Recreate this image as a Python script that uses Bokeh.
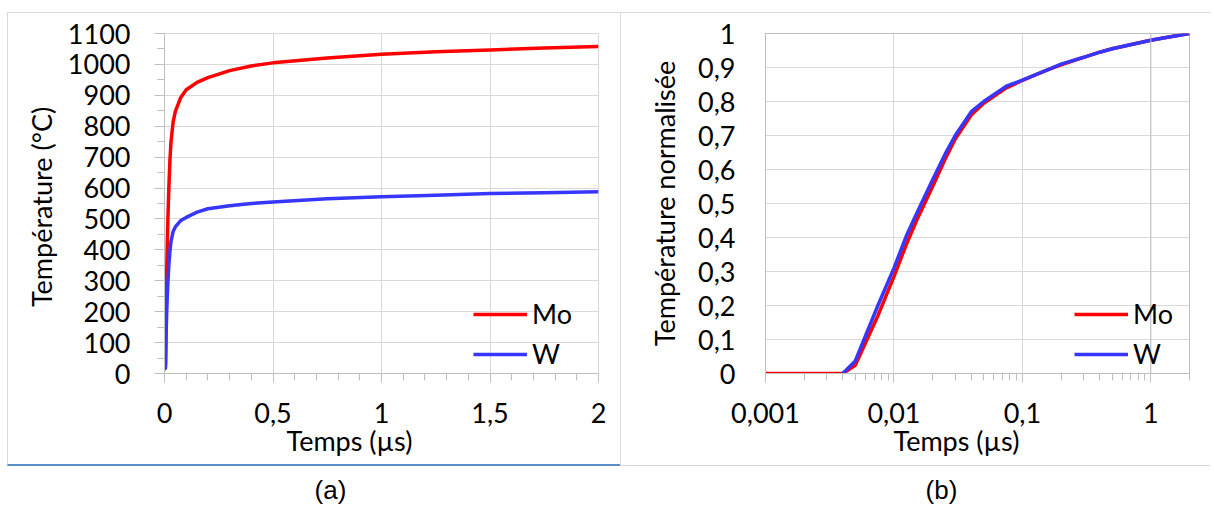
from bokeh.plotting import figure
from bokeh.models import (Legend, LegendItem, Title, Span, Label, FixedTicker,
                          CustomJSTickFormatter, Spacer)
from bokeh.layouts import row, column
from bokeh.embed import file_html
from bokeh.resources import INLINE

# ---------------- data ----------------
t_us = [0.001, 0.002, 0.003, 0.004, 0.005, 0.0075, 0.01, 0.0125, 0.015, 0.02,
        0.025, 0.03, 0.04, 0.05, 0.075, 0.1, 0.15, 0.2, 0.3, 0.4, 0.5, 0.75,
        1.0, 1.25, 1.5, 1.75, 2.0]
mo_temp = [20, 20, 20, 20, 45, 200, 320, 415, 485, 600, 690, 750, 815, 848,
           893, 918, 942, 957, 980, 995, 1005, 1021, 1033, 1041, 1047, 1053, 1058]
w_temp = [15, 15, 15, 15, 35, 130, 195, 245, 285, 350, 395, 428, 460, 474,
          495, 505, 522, 533, 543, 550, 555, 565, 572, 577, 582, 585, 588]

t_norm_mo = t_us
mo_norm = [0, 0, 0, 0, 0.024, 0.17, 0.285, 0.38, 0.45, 0.55, 0.63, 0.69, 0.76,
           0.795, 0.84, 0.862, 0.89, 0.908, 0.93, 0.945, 0.955, 0.97, 0.98,
           0.987, 0.992, 0.996, 1.0]
t_norm_w = t_us[3:]
w_norm = [0, 0.037, 0.2, 0.31, 0.405, 0.47, 0.57, 0.645, 0.70, 0.77, 0.80,
          0.845, 0.863, 0.89, 0.91, 0.93, 0.945, 0.955, 0.97, 0.98, 0.987,
          0.992, 0.996, 1.0]

series_names = ["Mo", "W"]
series_colors = ["#FF0000", "#3636FF"]

left_x_ticks = [0, 0.5, 1, 1.5, 2]
left_x_minor = [0.1, 0.2, 0.3, 0.4, 0.6, 0.7, 0.8, 0.9, 1.1, 1.2, 1.3, 1.4,
                1.6, 1.7, 1.8, 1.9]
left_y_ticks = [0, 100, 200, 300, 400, 500, 600, 700, 800, 900, 1000, 1100]
left_y_minor = [50, 150, 250, 350, 450, 550, 650, 750, 850, 950, 1050]
right_x_ticks = [0.001, 0.01, 0.1, 1]
right_x_minor = [0.002, 0.003, 0.004, 0.005, 0.006, 0.007, 0.008, 0.009,
                 0.02, 0.03, 0.04, 0.05, 0.06, 0.07, 0.08, 0.09,
                 0.2, 0.3, 0.4, 0.5, 0.6, 0.7, 0.8, 0.9, 2]
right_y_ticks = [0, 0.1, 0.2, 0.3, 0.4, 0.5, 0.6, 0.7, 0.8, 0.9, 1]

x_title = "Temps (µs)"
left_y_title = "Température  (°C)"
right_y_title = "Température normalisée"
captions = ["(a)", "(b)"]

FONT = "Lato"
FS = "27px"
GRID = "#D9D9D9"
AXC = "#BFBFBF"

fmt_code = "return String(+tick.toPrecision(6)).replace('.', ',');"


def style(p, ytick_out, ylab_standoff, ytitle_standoff):
    p.toolbar_location = None
    p.background_fill_color = "white"
    p.border_fill_color = "white"
    p.outline_line_color = GRID
    for ax in [p.xaxis[0], p.yaxis[0]]:
        ax.axis_line_color = AXC
        ax.major_tick_line_color = AXC
        ax.minor_tick_line_color = AXC
        ax.major_tick_in = 0
        ax.minor_tick_in = 0
        ax.major_label_text_font = FONT
        ax.major_label_text_font_size = FS
        ax.major_label_text_color = "black"
        ax.axis_label_text_font = FONT
        ax.axis_label_text_font_size = FS
        ax.axis_label_text_font_style = "normal"
        ax.axis_label_text_color = "black"
        ax.formatter = CustomJSTickFormatter(code=fmt_code)
    p.xaxis[0].major_tick_out = 9
    p.xaxis[0].minor_tick_out = 7
    p.xaxis[0].major_label_standoff = 20
    p.yaxis[0].major_tick_out = ytick_out
    p.yaxis[0].minor_tick_out = 7 if ytick_out else 0
    p.yaxis[0].major_label_standoff = ylab_standoff
    p.yaxis[0].axis_label_standoff = ytitle_standoff
    p.grid.grid_line_color = GRID
    p.grid.grid_line_width = 1


def add_legend(p, renderers):
    items = [LegendItem(label=n, renderers=[r]) for n, r in zip(series_names, renderers)]
    lg = Legend(items=items, location=(309, 3), glyph_width=54, glyph_height=30,
                label_height=30, spacing=7, padding=0, margin=0,
                border_line_color=None, background_fill_alpha=0,
                label_standoff=5, label_text_font=FONT, label_text_font_size=FS,
                label_text_color="black")
    p.add_layout(lg)


def add_xtitle(p, offset):
    t = Title(text=x_title, align="left", offset=offset, standoff=-8,
              text_font=FONT, text_font_size=FS, text_font_style="normal",
              text_color="black")
    p.add_layout(t, "below")


# ---------------- panel (a) ----------------
p1 = figure(width=613, height=454, x_range=(0, 2), y_range=(0, 1100),
            output_backend="svg", toolbar_location=None,
            min_border_left=156, min_border_right=23, min_border_top=20,
            min_border_bottom=94)
style(p1, 10, 24, 7)
p1.xaxis.ticker = FixedTicker(ticks=left_x_ticks, minor_ticks=left_x_minor)
p1.yaxis.ticker = FixedTicker(ticks=left_y_ticks, minor_ticks=left_y_minor)
p1.yaxis.axis_label = left_y_title
r1 = p1.line(t_us, mo_temp, line_color=series_colors[0], line_width=3.5)
r2 = p1.line(t_us, w_temp, line_color=series_colors[1], line_width=3.5)
add_legend(p1, [r1, r2])
add_xtitle(p1, 122)
p1.styles = {"border-left": "1px solid #D9D9D9", "border-top": "1px solid #D9D9D9",
             "border-bottom": "2px solid #5B8DC8", "box-sizing": "border-box"}

# ---------------- panel (b) ----------------
p2 = figure(width=590, height=454, x_range=(0.001, 2), y_range=(0, 1),
            x_axis_type="log", output_backend="svg", toolbar_location=None,
            min_border_left=144, min_border_right=22, min_border_top=20,
            min_border_bottom=94)
style(p2, 0, 30, 14)
p2.outline_line_color = AXC
p2.xaxis.ticker = FixedTicker(ticks=right_x_ticks, minor_ticks=right_x_minor)
p2.yaxis.ticker = FixedTicker(ticks=right_y_ticks)
p2.yaxis.axis_label = right_y_title
p2.add_layout(Span(location=1, dimension="height", line_color=AXC, line_width=1))
q1 = p2.line(t_norm_mo, mo_norm, line_color=series_colors[0], line_width=3.5)
q2 = p2.line(t_norm_w, w_norm, line_color=series_colors[1], line_width=3.5)
add_legend(p2, [q1, q2])
add_xtitle(p2, 128)
p2.styles = {"border-left": "1px solid #D9D9D9", "border-top": "1px solid #D9D9D9",
             "border-bottom": "1px solid #D9D9D9", "box-sizing": "border-box"}

# ---------------- captions ----------------
pc = figure(width=1207, height=40, x_range=(0, 1207), y_range=(0, 40),
            output_backend="svg", toolbar_location=None, min_border=0)
pc.axis.visible = False
pc.grid.visible = False
pc.outline_line_color = None
for cx, txt in zip([323, 934], captions):
    pc.add_layout(Label(x=cx, y=17, text=txt, text_align="center",
                        text_baseline="middle", text_font="Liberation Sans",
                        text_font_size="26px", text_color="black"))

layout = column(Spacer(height=12),
                row(Spacer(width=7), p1, p2),
                row(Spacer(width=7), pc))
open("out.html", "w").write(file_html(layout, INLINE))
